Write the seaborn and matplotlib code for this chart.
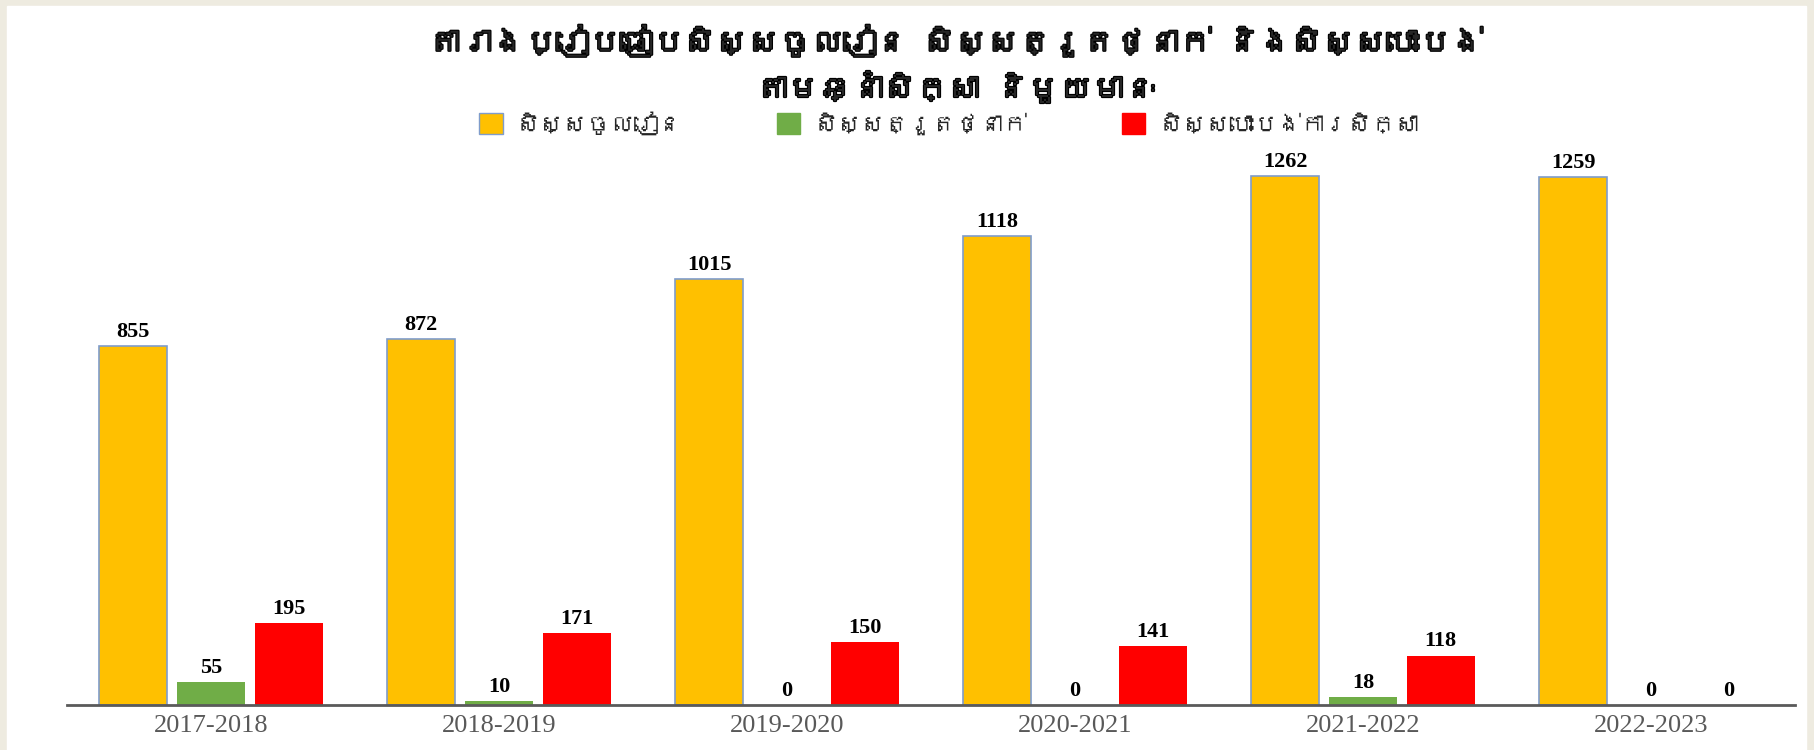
import pandas as pd
import matplotlib
matplotlib.use("Agg")
import matplotlib.pyplot as plt
import matplotlib.patches as mpatches
import matplotlib.patheffects as pe
import seaborn as sns
from matplotlib import font_manager

# ទិន្នន័យ
years = ["2017-2018", "2018-2019", "2019-2020", "2020-2021", "2021-2022", "2022-2023"]
enrolled = [855, 872, 1015, 1118, 1262, 1259]
failed = [55, 10, 0, 0, 18, 0]
dropped = [195, 171, 150, 141, 118, 0]
series = ["សិស្សចូលរៀន", "សិស្សត្រួតថ្នាក់", "សិស្សបោះបង់ការសិក្សា"]
colors = ["#FFC000", "#70AD47", "#FF0000"]
title = "តារាងប្រៀបធៀបសិស្សចូលរៀន សិស្សត្រួតថ្នាក់ និងសិស្សបោះបង់\nតាមឆ្នាំសិក្សា និមួយមានៈ"

df = pd.DataFrame({
    "year": years * 3,
    "value": enrolled + failed + dropped,
    "series": [series[0]] * 6 + [series[1]] * 6 + [series[2]] * 6,
})

sns.set_style("white")

# look for a font with Khmer glyphs, fall back to DejaVu
khmer_fonts = []
try:
    from fontTools.ttLib import TTFont
    for f in font_manager.fontManager.ttflist:
        try:
            cmap = TTFont(f.fname, fontNumber=0, lazy=True).getBestCmap()
            if cmap and 0x1780 in cmap and f.name not in khmer_fonts:
                khmer_fonts.append(f.name)
        except Exception:
            pass
except ImportError:
    pass
kh_family = khmer_fonts + ["DejaVu Sans"]
plt.rcParams["font.family"] = kh_family

fig = plt.figure(figsize=(18.15, 7.5), dpi=100, facecolor="#EEEBE0")
fig.patches.append(mpatches.Rectangle((7 / 1815, 0), 1799 / 1815, 744 / 750,
                                      transform=fig.transFigure, color="white", zorder=-10))
ax = fig.add_axes([67 / 1815, 45 / 750, 1728 / 1815, 0.7827])
ax.set_facecolor("none")
ax.set_zorder(5)

sns.barplot(data=df, x="year", y="value", hue="series", hue_order=series,
            palette=colors, saturation=1, width=0.81, gap=0.12, ax=ax, legend=False)

for i, cont in enumerate(ax.containers):
    for bar in cont:
        if i == 0:
            bar.set_edgecolor("#7F9CCB")
            bar.set_linewidth(1.2)
        else:
            bar.set_edgecolor("none")
    ax.bar_label(cont, padding=3, fontsize=16, fontweight="bold",
                 family="Liberation Serif", color="black")

ax.set_xlim(-0.5, 5.5)
ax.set_ylim(0, 1400)
ax.set_xlabel("")
ax.set_ylabel("")
ax.set_yticks([])
for s in ["top", "right", "left"]:
    ax.spines[s].set_visible(False)
ax.spines["bottom"].set_color("#5A5A5A")
ax.spines["bottom"].set_linewidth(2)
ax.tick_params(axis="x", length=0, pad=7)
for lab in ax.get_xticklabels():
    lab.set_family("Liberation Serif")
    lab.set_fontsize(19)
    lab.set_color("#595959")

fig.text(0.527, 0.915, title, ha="center", va="center", fontsize=23,
         fontweight="bold", family=kh_family, linespacing=1.5,
         path_effects=[pe.withStroke(linewidth=1.6, foreground="black")])

handles = [mpatches.Patch(facecolor=c, edgecolor=("#7F9CCB" if i == 0 else c), label=s)
           for i, (c, s) in enumerate(zip(colors, series))]
fig.legend(handles=handles, loc="center", bbox_to_anchor=(0.523, 0.836), ncol=3,
           frameon=False, prop={"family": kh_family, "size": 17},
           handlelength=1.0, handleheight=1.0, columnspacing=4, handletextpad=0.6)

fig.savefig("out.png", dpi=100, facecolor=fig.get_facecolor())
